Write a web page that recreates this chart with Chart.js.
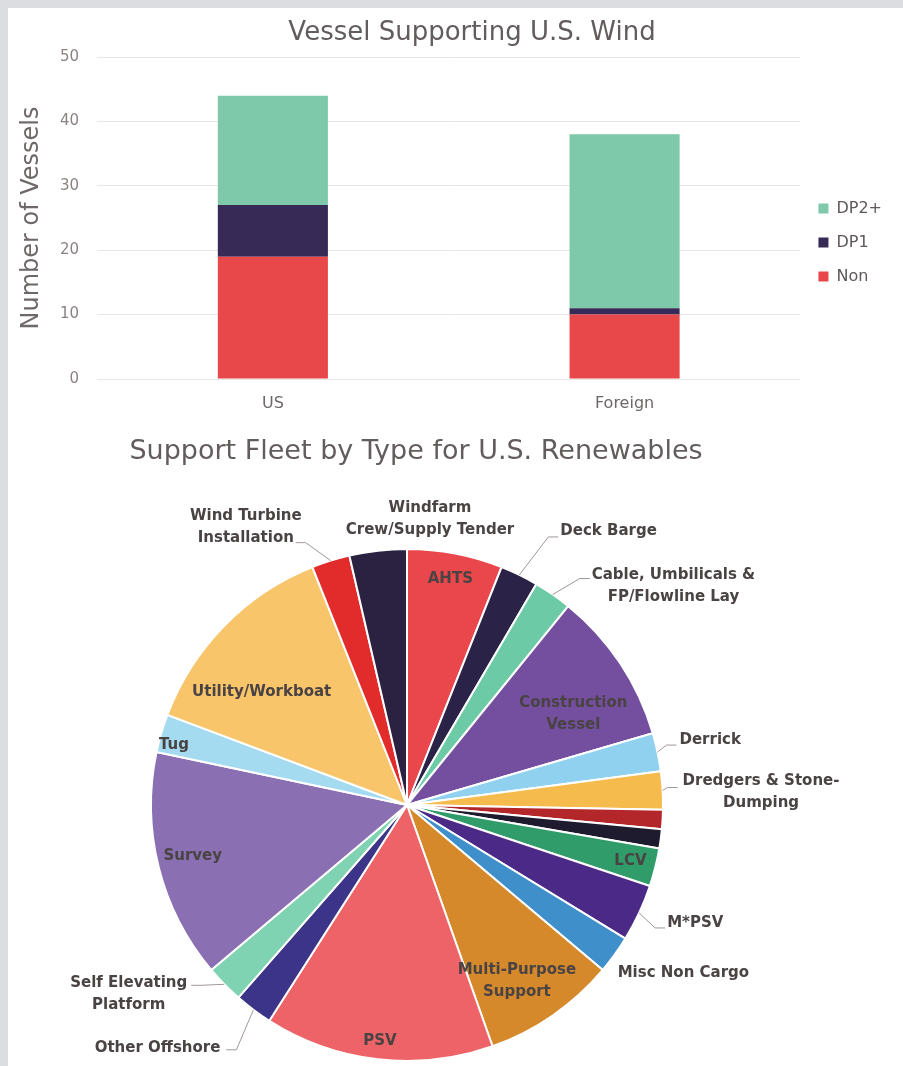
<!DOCTYPE html>
<html>
<head>
<meta charset="utf-8">
<script src="https://cdn.jsdelivr.net/npm/chart.js@4/dist/chart.umd.min.js"></script>
<style>
html,body{margin:0;padding:0;background:#dcdde0;}
body{width:903px;height:1066px;position:relative;overflow:hidden;}
#panel{position:absolute;left:8px;top:8px;width:895px;height:1058px;background:#fff;}
#barBox{position:absolute;left:0;top:0;width:895px;height:412px;}
#pieBox{position:absolute;left:0;top:412px;width:895px;height:646px;}
</style>
</head>
<body>
<div id="panel">
<div id="barBox"><canvas id="bar" width="895" height="412"></canvas></div>
<div id="pieBox"><canvas id="pie" width="895" height="646"></canvas></div>
</div>
<script>
// ---- bar chart data
const barCategories = ["US","Foreign"]
const nonValues = [19,10]
const dp1Values = [8,1]
const dp2Values = [17,27]
const yMax = 50
const yStep = 10

// ---- pie chart data (clockwise from 12 o'clock)
const fleetTypes = [
"AHTS",
"Deck Barge",
["Cable, Umbilicals &","FP/Flowline Lay"],
["Construction","Vessel"],
"Derrick",
["Dredgers & Stone-","Dumping"],
"",
"",
"LCV",
"M*PSV",
"Misc Non Cargo",
["Multi-Purpose","Support"],
"PSV",
"Other Offshore",
["Self Elevating","Platform"],
"Survey",
"Tug",
"Utility/Workboat",
["Wind Turbine","Installation"],
["Windfarm","Crew/Supply Tender"]
]
const fleetCounts = [5,2,2,8,2,2,1,1,2,3,2,7,12,2,2,12,2,11,2,3]

// styles
const fleetColors = ["#e9474b","#2a2347","#6ccba6","#744fa0","#8fd1ee","#f6bb4d","#b3262a","#1f1b2e",
"#2f9c6a","#4b2a87","#3f8fca","#d6892a","#ee6367","#3b3489","#7fd2b2","#8a6fb2","#a5dbf1","#f8c56b","#e22b2b","#2b2140"]

// where each pie label sits: "in" = fraction of radius inside the slice,
// otherwise offset from the slice's outer edge, with an optional leader line end
const labelSpots = [
{in:0.90},
{dx:41,dy:-44,align:"left",lead:[39,-38]},
{dx:39,dy:-8,align:"left",lead:[37,-16]},
{in:0.74,da:5},
{dx:22,dy:-12,align:"left",lead:[19,-7]},
{dx:20,dy:2,align:"left",lead:[15,-3]},
null,
null,
{in:0.90},
{dx:28,dy:10,align:"left",lead:[26,15]},
{dx:3,dy:18,align:"left"},
{in:0.81,da:2.7},
{in:0.93},
{dx:-33,dy:38,align:"right",lead:[-27,40]},
{dx:-37,dy:10,align:"right",lead:[-33,1]},
{in:0.86,da:0.8},
{in:0.94,da:-1.8},
{in:0.72,da:-6.5},
{dx:-29,dy:-34,align:"right",lead:[-35,-18]},
{dx:52,dy:-32,align:"center"}
]

const FONT = "'DejaVu Sans', sans-serif"

// draws a chart heading at a fixed place in the canvas
const headline = {
id:"headline",
afterDraw(chart,args,opts){
let ctx=chart.ctx
ctx.save()
ctx.font=opts.font
ctx.fillStyle=opts.color
ctx.textAlign="center"
ctx.textBaseline="middle"
ctx.fillText(opts.text,opts.x,opts.y)
ctx.restore()
}
}

new Chart(document.getElementById("bar"),{
type:"bar",
data:{
labels:barCategories,
datasets:[
{label:"Non",data:nonValues,backgroundColor:"#e84849"},
{label:"DP1",data:dp1Values,backgroundColor:"#372a57"},
{label:"DP2+",data:dp2Values,backgroundColor:"#7dc9a9"}
]
},
plugins:[headline],
options:{
responsive:false,
animation:false,
layout:{padding:{top:49,right:11,left:0,bottom:0}},
datasets:{bar:{categoryPercentage:1,barPercentage:0.313,borderWidth:0}},
scales:{
x:{
stacked:true,
grid:{display:false,drawTicks:false},
border:{display:false},
ticks:{color:"#6e6868",font:{family:FONT,size:16},padding:15},
afterFit(s){s.height=41}
},
y:{
stacked:true,
min:0,max:yMax,
ticks:{stepSize:yStep,color:"#8b8282",font:{family:FONT,size:15},padding:18},
grid:{color:"#ebe7e7",drawTicks:false},
border:{display:false},
title:{display:true,text:"Number of Vessels",color:"#6e6868",font:{family:FONT,size:24},padding:{top:9,bottom:0}},
afterFit(s){s.width=89}
}
},
plugins:{
legend:{
position:"right",
reverse:true,
title:{display:true,text:" ",font:{size:5,lineHeight:1.2},padding:{top:2,bottom:0}},
labels:{boxWidth:10,boxHeight:10,padding:18,color:"#5e5858",font:{family:FONT,size:16}}
},
tooltip:{enabled:false},
headline:{text:"Vessel Supporting U.S. Wind",x:464,y:25,font:"26px "+FONT,color:"#625c5c"}
}
}
})

// pie labels, placed from each arc's own geometry
const pieLabels = {
id:"pieLabels",
afterDraw(chart){
let ctx=chart.ctx
let arcs=chart.getDatasetMeta(0).data
ctx.save()
ctx.font="bold 15px "+FONT
ctx.textBaseline="middle"
ctx.textAlign="center"
arcs.forEach((arc,i)=>{
let spot=labelSpots[i]
if(!spot) return
let p=arc.getProps(["x","y","startAngle","endAngle","outerRadius"],true)
let lines=[].concat(chart.data.labels[i])
let mid=(p.startAngle+p.endAngle)/2+((spot.da||0)*Math.PI/180)
let lh=22
let cx,cy
if(spot.in){
cx=p.x+Math.cos(mid)*p.outerRadius*spot.in
cy=p.y+Math.sin(mid)*p.outerRadius*spot.in
}else{
let ex=p.x+Math.cos(mid)*p.outerRadius
let ey=p.y+Math.sin(mid)*p.outerRadius
if(spot.lead){
let side=spot.align==="left"?1:-1
let lx=ex+spot.lead[0],ly=ey+spot.lead[1]
ctx.strokeStyle="#a09696"
ctx.lineWidth=1
ctx.beginPath()
ctx.moveTo(ex,ey)
ctx.lineTo(lx-side*10,ly)
ctx.lineTo(lx,ly)
ctx.stroke()
}
let bw=Math.max(...lines.map(t=>ctx.measureText(t).width))
let ax=ex+spot.dx
cx=spot.align==="left"?ax+bw/2:spot.align==="right"?ax-bw/2:ax
cy=ey+spot.dy
}
ctx.fillStyle="#4a4343"
lines.forEach((t,k)=>{
ctx.fillText(t,cx,cy+(k-(lines.length-1)/2)*lh)
})
})
ctx.restore()
}
}

new Chart(document.getElementById("pie"),{
type:"pie",
data:{
labels:fleetTypes,
datasets:[{data:fleetCounts,backgroundColor:fleetColors,borderColor:"#ffffff",borderWidth:2,radius:256}]
},
plugins:[headline,pieLabels],
options:{
responsive:false,
animation:false,
layout:{padding:{top:124,left:143,right:240,bottom:0}},
plugins:{
legend:{display:false},
tooltip:{enabled:false},
headline:{text:"Support Fleet by Type for U.S. Renewables",x:408,y:32,font:"27px "+FONT,color:"#625c5c"}
}
}
})
</script>
</body>
</html>
